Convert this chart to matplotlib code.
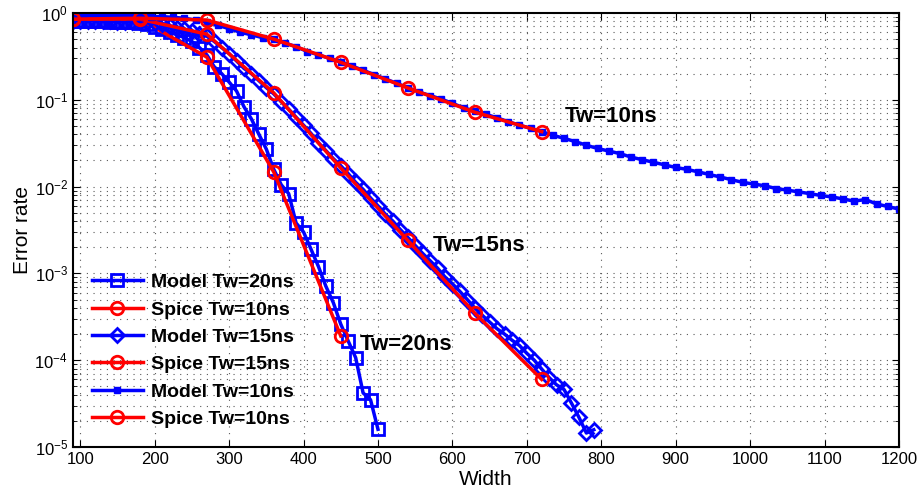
import matplotlib
matplotlib.use('Agg')
import matplotlib.pyplot as plt
from matplotlib.ticker import LogLocator, NullFormatter, MultipleLocator
import numpy as np

# global fonts (Arial-like)
plt.rcParams['font.family'] = ['Liberation Sans', 'DejaVu Sans']
plt.rcParams['mathtext.fontset'] = 'custom'
plt.rcParams['mathtext.rm'] = 'Liberation Sans'
plt.rcParams['mathtext.it'] = 'Liberation Sans:italic'

# ---- data ----
# Spice simulation points
x_spice = [90, 180, 270, 360, 450, 540, 630, 720]
spice_10 = [0.85, 0.87, 0.83, 0.50, 0.27, 0.137, 0.072, 0.043]
spice_15 = [0.85, 0.85, 0.57, 0.12, 0.0164, 0.0024, 3.5e-4, 6.0e-5]
x_spice_20 = [90, 180, 270, 360, 450]
spice_20 = [0.85, 0.85, 0.31, 0.0147, 1.9e-4]

# Model Tw=20ns (x = 90..500 step 10)
x_model_20 = list(range(90, 501, 10))
model_20 = [0.81, 0.81, 0.81, 0.81, 0.81, 0.79, 0.79, 0.79, 0.78, 0.76,
            0.74, 0.69, 0.65, 0.60, 0.56, 0.52, 0.47, 0.40, 0.33, 0.24,
            0.20, 0.16, 0.126, 0.083, 0.060, 0.040, 0.027, 0.0158, 0.0105, 0.0083,
            0.0038, 0.0030, 0.0019, 0.0012, 7.1e-4, 4.6e-4, 2.6e-4, 1.66e-4, 1.07e-4, 4.2e-5,
            3.5e-5, 1.6e-5]

# Model Tw=15ns (x = 90..790 step 10)
x_model_15 = list(range(90, 791, 10))
model_15 = [0.81, 0.81, 0.81, 0.81, 0.81, 0.81, 0.79, 0.79, 0.79, 0.79,
            0.78, 0.76, 0.74, 0.71, 0.68, 0.65, 0.62, 0.58, 0.54, 0.47,
            0.40, 0.34, 0.28, 0.23, 0.20, 0.166, 0.138, 0.117, 0.095, 0.078,
            0.063, 0.051, 0.041, 0.032, 0.026, 0.021, 0.0174, 0.0141, 0.0112, 0.0093,
            0.0074, 0.0060, 0.0048, 0.0040, 0.0032, 0.0026, 0.0021, 0.0017, 0.0014, 0.00115,
            9.1e-4, 7.6e-4, 6.2e-4, 5.0e-4, 4.0e-4, 3.3e-4, 2.75e-4, 2.3e-4, 2.0e-4, 1.7e-4,
            1.48e-4, 1.2e-4, 1.0e-4, 7.9e-5, 6.3e-5, 5.2e-5, 4.6e-5, 3.2e-5, 2.2e-5, 1.45e-5,
            1.58e-5]

# Model Tw=10ns (x = 90..1200 step 15)
x_model_10 = list(range(90, 1201, 15))
model_10 = [0.93, 0.93, 0.93, 0.93, 0.93, 0.93, 0.93, 0.91, 0.91, 0.89,
            0.87, 0.83, 0.79, 0.72, 0.66, 0.60, 0.56, 0.52, 0.50, 0.45,
            0.41, 0.36, 0.33, 0.30, 0.275, 0.245, 0.219, 0.195, 0.174, 0.155,
            0.138, 0.123, 0.112, 0.102, 0.091, 0.081, 0.074, 0.068, 0.062, 0.056,
            0.051, 0.047, 0.043, 0.039, 0.036, 0.033, 0.030, 0.0275, 0.0257, 0.024,
            0.0219, 0.0204, 0.0191, 0.0178, 0.0166, 0.0158, 0.0148, 0.0138, 0.0129, 0.0120,
            0.0112, 0.0107, 0.0102, 0.0095, 0.0091, 0.0087, 0.0083, 0.0079, 0.0076, 0.0072,
            0.0068, 0.0071, 0.0063, 0.0059, 0.0055]

labels = ['Model Tw=20ns', 'Spice Tw=10ns', 'Model Tw=15ns',
          'Spice Tw=15ns', 'Model Tw=10ns', 'Spice Tw=10ns']

blue = '#0000ff'
red = '#ff0000'

fig = plt.figure(figsize=(9.22, 5.0), dpi=100)
ax = fig.add_axes([0.079, 0.106, 0.896, 0.868])

ax.plot(x_model_20, model_20, color=blue, lw=2.5, marker='s', ms=8.5, mfc='none', mew=2, label=labels[0])
ax.plot(x_spice_20, spice_20, color=red, lw=2.5, marker='o', ms=9, mfc='none', mew=2, label=labels[1])
ax.plot(x_model_15, model_15, color=blue, lw=2.5, marker='D', ms=7, mfc='none', mew=2, label=labels[2])
ax.plot(x_spice, spice_15, color=red, lw=2.5, marker='o', ms=9, mfc='none', mew=2, label=labels[3])
ax.plot(x_model_10, model_10, color=blue, lw=2.5, marker='s', ms=4, mfc=blue, mew=1, label=labels[4])
ax.plot(x_spice, spice_10, color=red, lw=2.5, marker='o', ms=9, mfc='none', mew=2, label=labels[5])

ax.set_yscale('log')
ax.set_xlim(90, 1200)
ax.set_ylim(1e-5, 1)
ax.xaxis.set_major_locator(MultipleLocator(100))
ax.yaxis.set_major_locator(LogLocator(base=10, numticks=10))
ax.yaxis.set_minor_locator(LogLocator(base=10, subs=np.arange(2, 10), numticks=20))
ax.yaxis.set_minor_formatter(NullFormatter())

# sparse dotted grid, MATLAB style
ax.grid(True, which='major', axis='both', linestyle=(0, (1, 5)), color='0.35', lw=0.8)
ax.grid(True, which='minor', axis='y', linestyle=(0, (1, 5)), color='0.35', lw=0.8)
ax.tick_params(which='both', direction='in', top=True, right=True, labelsize=12)
ax.tick_params(which='major', length=5)
ax.tick_params(which='minor', length=3)
for sp in ax.spines.values():
    sp.set_linewidth(1.5)

ax.set_xlabel('Width', fontsize=15, labelpad=2)
ax.set_ylabel('Error rate', fontsize=15, labelpad=2)

ax.text(751, 0.065, 'Tw=10ns', fontsize=16, fontweight='bold', va='center', ha='left')
ax.text(574, 0.00212, 'Tw=15ns', fontsize=16, fontweight='bold', va='center', ha='left')
ax.text(476, 1.5e-4, 'Tw=20ns', fontsize=16, fontweight='bold', va='center', ha='left')

leg = ax.legend(loc='lower left', frameon=False, prop={'size': 14, 'weight': 'bold'},
                handlelength=2.6, labelspacing=0.5, borderaxespad=0.0, handletextpad=0.4,
                bbox_to_anchor=(0.014, 0.026))

fig.savefig('out.png', dpi=100)
